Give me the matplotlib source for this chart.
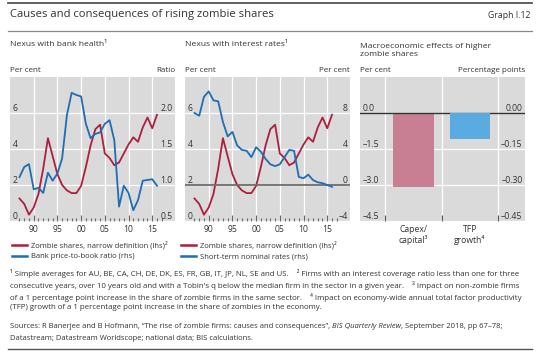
import matplotlib
matplotlib.use("Agg")
import matplotlib.pyplot as plt
from matplotlib.lines import Line2D
from matplotlib.ticker import FixedLocator, FuncFormatter

# data
years = list(range(1987, 2017))
zombie_share = [1.25, 0.95, 0.35, 0.75, 1.5, 2.9, 4.6, 3.6, 2.6, 2.0,
                1.7, 1.55, 1.55, 1.95, 3.0, 4.2, 5.1, 5.35, 3.75, 3.5,
                3.1, 3.25, 3.75, 4.25, 4.65, 4.4, 5.2, 5.75, 5.15, 5.9]
price_to_book = [1.11, 1.25, 1.29, 0.94, 0.96, 0.89, 1.17, 1.06, 1.16, 1.37,
                 1.97, 2.28, 2.25, 2.23, 1.85, 1.65, 1.71, 1.73, 1.85, 1.90,
                 1.62, 0.70, 0.99, 0.89, 0.65, 0.79, 1.06, 1.07, 1.08, 0.99]
short_rates = [8.0, 7.7, 9.8, 10.4, 9.4, 9.3, 7.0, 5.4, 5.9, 4.4,
               3.9, 3.8, 3.1, 4.2, 3.7, 2.9, 2.3, 2.1, 2.3, 3.1,
               3.9, 3.8, 0.9, 0.75, 1.15, 0.55, 0.3, 0.2, 0.0, -0.2]
year_ticks = [1990, 1995, 2000, 2005, 2010, 2015]
year_labels = ["90", "95", "00", "05", "10", "15"]
bar_names = ["Capex/\ncapital³", "TFP\ngrowth⁴"]
capex_effect = [-3.1]
tfp_effect = [-0.11]

plt.rcParams["font.family"] = ["Open Sans", "DejaVu Sans"]

RED = "#ad1f3c"
BLUE = "#1f6db3"
PINK = "#c97f93"
LIGHTBLUE = "#5aace0"
BG = "#dadada"
TXT = "#333333"
W, H = 540, 351

fig = plt.figure(figsize=(W / 100, H / 100), dpi=100)


def box(x0, x1, y0, y1):
    return [x0 / W, 1 - y1 / H, (x1 - x0) / W, (y1 - y0) / H]


def put(x, y, s, **kw):
    kw.setdefault("color", TXT)
    return fig.text(x / W, 1 - y / H, s, **kw)


def hrule(y, x0=8, x1=532, **kw):
    fig.add_artist(Line2D([x0 / W, x1 / W], [1 - y / H] * 2, **kw))


def minus(v, fmt):
    return (fmt % v).replace("-", "\u2013")


def base_style(ax):
    ax.set_facecolor(BG)
    for s in ax.spines.values():
        s.set_visible(False)
    ax.set_axisbelow(True)


def inside_labels(ax, side):
    ax.tick_params(axis="y", length=0, pad=-1.8, labelsize=6.2, labelcolor=TXT)
    for t in ax.get_yticklabels():
        t.set_ha("left" if side == "left" else "right")
        t.set_va("bottom")


def time_axes(x0, x1):
    ax = fig.add_axes(box(x0, x1, 77, 221))
    base_style(ax)
    ax.set_xlim(1985, 2019.8)
    ax.set_xticks(year_ticks)
    ax.set_xticklabels(year_labels)
    ax.xaxis.set_minor_locator(FixedLocator(range(1987, 2018)))
    ax.tick_params(axis="x", which="major", direction="in", length=4.5, width=0.8,
                   color="#666666", pad=3, labelsize=6.2, labelcolor=TXT)
    ax.tick_params(axis="x", which="minor", direction="in", length=2.5, width=0.8,
                   color="#666666")
    ax.grid(True, which="major", color="white", lw=0.9)
    ax.set_ylim(0, 8)
    ax.set_yticks([0, 2, 4, 6])
    inside_labels(ax, "left")
    ax2 = ax.twinx()
    ax2.patch.set_visible(False)
    for s in ax2.spines.values():
        s.set_visible(False)
    return ax, ax2


# header
hrule(3, color="#555555", lw=1.3)
put(10, 15, "Causes and consequences of rising zombie shares", fontsize=8.1, va="center")
put(530, 15, "Graph I.12", fontsize=6.3, va="center", ha="right")
hrule(31, color="#888888", lw=0.9)

# panel 1: bank health
ax1, ax1r = time_axes(10, 175)
ax1.plot(years, zombie_share, color=RED, lw=1.3)
ax1r.plot(years, price_to_book, color=BLUE, lw=1.3)
ax1r.set_ylim(0.5, 2.5)
ax1r.set_yticks([0.5, 1.0, 1.5, 2.0])
ax1r.yaxis.set_major_formatter(FuncFormatter(lambda v, p: minus(v, "%.1f")))
inside_labels(ax1r, "right")

# panel 2: interest rates
ax2, ax2r = time_axes(185, 350)
ax2.plot(years, zombie_share, color=RED, lw=1.3)
ax2r.axhline(0, color="#6e6e6e", lw=1.3, zorder=1)
ax2r.plot(years, short_rates, color=BLUE, lw=1.3, zorder=2)
ax2r.set_ylim(-4, 12)
ax2r.set_yticks([-4, 0, 4, 8])
ax2r.yaxis.set_major_formatter(FuncFormatter(lambda v, p: minus(v, "%d")))
inside_labels(ax2r, "right")

# panel 3: macro effects
ax3 = fig.add_axes(box(360, 525, 77, 221))
base_style(ax3)
ax3.set_xlim(-0.94, 1.97)
ax3.set_xticks([0, 1])
ax3.set_xticklabels(bar_names, fontsize=6.2, color=TXT, linespacing=1.1)
ax3.xaxis.set_minor_locator(FixedLocator([-0.5, 0.5, 1.5]))
ax3.tick_params(axis="x", which="major", length=0, pad=3)
ax3.tick_params(axis="x", which="minor", direction="in", length=4.5, width=0.8,
                color="#555555")
ax3.grid(True, which="minor", axis="x", color="white", lw=0.9)
ax3.grid(True, which="major", axis="y", color="white", lw=0.9)
ax3.set_ylim(-4.5, 1.5)
ax3.set_yticks([-4.5, -3.0, -1.5, 0.0])
ax3.yaxis.set_major_formatter(FuncFormatter(lambda v, p: minus(v, "%.1f")))
inside_labels(ax3, "left")
ax3.bar([0], capex_effect, width=0.72, color=PINK, zorder=2)
ax3.axhline(0, color="#333333", lw=1.0, zorder=3)
ax3r = ax3.twinx()
ax3r.patch.set_visible(False)
for s in ax3r.spines.values():
    s.set_visible(False)
ax3r.bar([1], tfp_effect, width=0.72, color=LIGHTBLUE, zorder=2)
ax3r.set_ylim(-0.45, 0.15)
ax3r.set_yticks([-0.45, -0.30, -0.15, 0.0])
ax3r.yaxis.set_major_formatter(FuncFormatter(lambda v, p: minus(v, "%.2f")))
inside_labels(ax3r, "right")

# panel titles and unit labels
put(10, 45, "Nexus with bank health¹", fontsize=6.1, va="center")
put(185, 45, "Nexus with interest rates¹", fontsize=6.1, va="center")
put(360, 51, "Macroeconomic effects of higher\nzombie shares", fontsize=6.1,
    va="center", linespacing=1.2)
for x0, x1, l, r in [(10, 175, "Per cent", "Ratio"), (185, 350, "Per cent", "Per cent"),
                     (360, 525, "Per cent", "Percentage points")]:
    put(x0, 71, l, fontsize=5.8, va="center")
    put(x1, 71, r, fontsize=5.8, va="center", ha="right")

# legends
for x0, labels in [(12, ["Zombie shares, narrow definition (lhs)²", "Bank price-to-book ratio (rhs)"]),
                   (181, ["Zombie shares, narrow definition (lhs)²", "Short-term nominal rates (rhs)"])]:
    handles = [Line2D([], [], color=RED, lw=1.8), Line2D([], [], color=BLUE, lw=1.8)]
    fig.legend(handles, labels, loc="upper left", bbox_to_anchor=(x0 / W, 1 - 241 / H),
               frameon=False, fontsize=5.5, handlelength=2.0, handletextpad=0.5,
               labelspacing=0.45, borderpad=0, borderaxespad=0, labelcolor=TXT)

# footnotes
notes = ("¹ Simple averages for AU, BE, CA, CH, DE, DK, ES, FR, GB, IT, JP, NL, SE and US.    "
         "² Firms with an interest coverage ratio less than one for three\n"
         "consecutive years, over 10 years old and with a Tobin's q below the median firm in the "
         "sector in a given year.    ³ Impact on non-zombie firms\n"
         "of a 1 percentage point increase in the share of zombie firms in the same sector.    "
         "⁴ Impact on economy-wide annual total factor productivity\n"
         "(TFP) growth of a 1 percentage point increase in the share of zombies in the economy.")
put(10, 269, notes, fontsize=5.65, va="top", linespacing=1.4)

# sources, with italic journal name
renderer = fig.canvas.get_renderer()
x = 10
for seg, style in [("Sources: R Banerjee and B Hofmann, \u201cThe rise of zombie firms: causes and consequences\u201d, ", "normal"),
                   ("BIS Quarterly Review", "italic"),
                   (", September 2018, pp 67\u201378;", "normal")]:
    t = put(x, 326, seg, fontsize=5.5, va="center", style=style)
    x += t.get_window_extent(renderer).width
put(10, 338, "Datastream; Datastream Worldscope; national data; BIS calculations.",
    fontsize=5.5, va="center")
hrule(349, color="#555555", lw=1.0)

fig.savefig("out.png", dpi=100)
